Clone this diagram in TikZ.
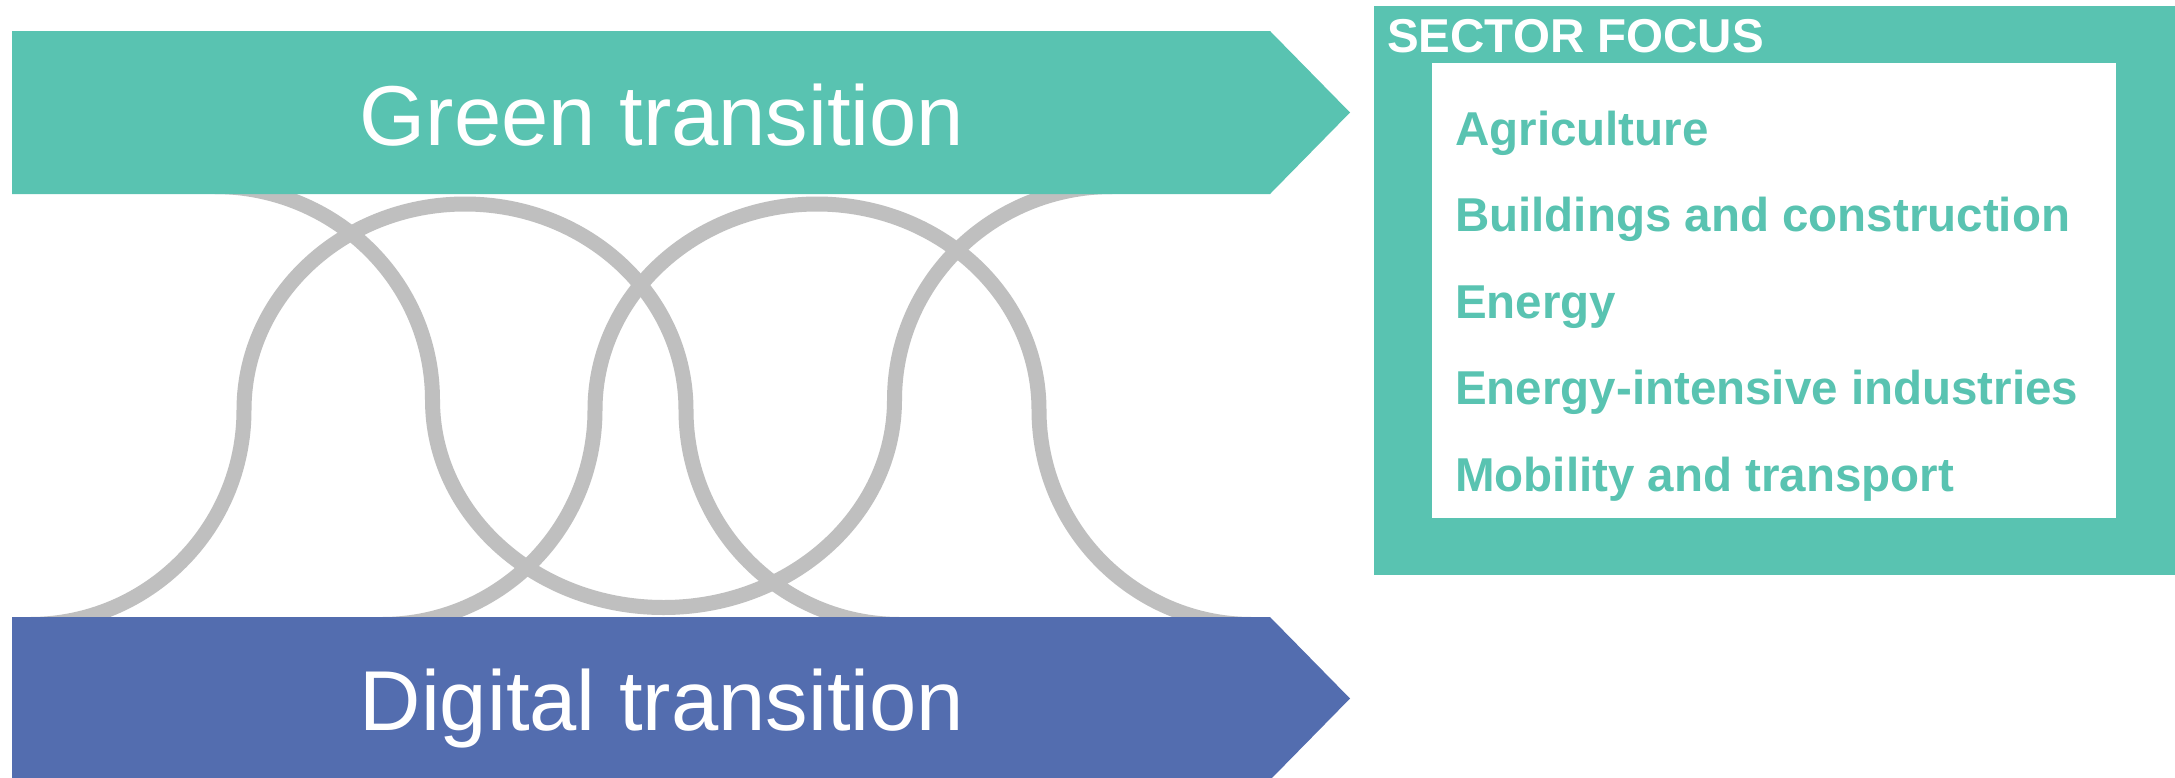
\documentclass[tikz,border=0pt]{standalone}
\usepackage{fontspec}
\setmainfont{Liberation Sans}
\definecolor{tealc}{HTML}{59C3B1}
\definecolor{bluec}{HTML}{536DAF}
\definecolor{grayc}{HTML}{BFBFBF}
\tikzset{
  wave/.style={draw=grayc, line width=15pt},
  bandtext/.style={text=white, font=\fontsize{85}{100}\selectfont, inner sep=0pt, anchor=base},
  itemtext/.style={text=tealc, font=\fontsize{47.5}{57}\selectfont\bfseries, inner sep=0pt, anchor=base west},
  headtext/.style={text=white, font=\fontsize{47.5}{57}\selectfont\bfseries, inner sep=0pt, anchor=base west},
}
\begin{document}
\begin{tikzpicture}[x=1pt,y=-1pt]
\useasboundingbox (0,0) rectangle (2175,777);
\clip (0,0) rectangle (2175,777);
\fill[white] (0,0) rectangle (2175,777);
% woven curves
\draw[wave] (30,624.5) .. controls (148,624.5) and (244,528.4) .. (244,410)
  .. controls (244,296.3) and (343,204) .. (465,204)
  .. controls (587,204) and (686,296.3) .. (686,410)
  .. controls (686,528.4) and (782,624.5) .. (900,624.5);
\draw[wave] (382,624.5) .. controls (499.6,624.5) and (595,528.4) .. (595,410)
  .. controls (595,296.3) and (694.5,204) .. (817,204)
  .. controls (939.5,204) and (1039,296.3) .. (1039,410)
  .. controls (1039,528.4) and (1134.4,624.5) .. (1252,624.5);
\draw[wave] (215,186.5) .. controls (335,186.5) and (432.5,282.1) .. (432.5,400)
  .. controls (432.5,514.5) and (536,607.5) .. (663.5,607.5)
  .. controls (791,607.5) and (894.5,514.5) .. (894.5,400)
  .. controls (894.5,282.1) and (992,186.5) .. (1112,186.5);
% arrows
\fill[tealc] (12,31) -- (1270,31) -- (1350,112.5) -- (1270,194) -- (12,194) -- cycle;
\fill[bluec] (12,617) -- (1270,617) -- (1350,698.5) -- (1270,780) -- (12,780) -- cycle;
\node[bandtext] (green) at (662,145) {Green transition};
\node[bandtext] (digital) at (662,730) {Digital transition};
% sector focus box
\fill[tealc] (1374,6) rectangle (2175,575);
\fill[white] (1432,63) rectangle (2116,518);
\node[headtext] (head) at (1387,52) {SECTOR FOCUS};
\node[itemtext] (agri) at (1455,145) {Agriculture};
\node[itemtext] (build) at (1455,231.5) {Buildings and construction};
\node[itemtext] (energy) at (1455,318) {Energy};
\node[itemtext] (eii) at (1455,404.5) {Energy-intensive industries};
\node[itemtext] (mob) at (1455,491) {Mobility and transport};
\end{tikzpicture}
\end{document}
